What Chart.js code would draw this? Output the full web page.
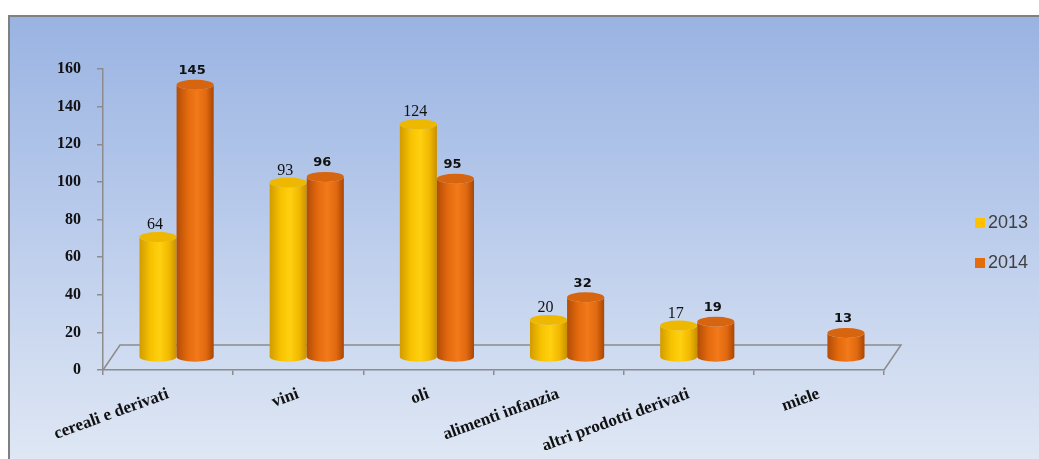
<!DOCTYPE html>
<html>
<head>
<meta charset="utf-8">
<script src="https://cdn.jsdelivr.net/npm/chart.js@4/dist/chart.umd.min.js"></script>
<style>
  html, body { margin: 0; padding: 0; background: #fff; }
  canvas { display: block; }
</style>
</head>
<body>
<canvas id="chart" width="1039" height="459"></canvas>
<script>
// Product categories and counts per year
const categories = [
  "cereali e derivati",
  "vini",
  "oli",
  "alimenti infanzia",
  "altri prodotti derivati",
  "miele",
];
const seriesLabels = ["2013", "2014"];
const values2013 = [64, 93, 124, 20, 17, null];
const values2014 = [145, 96, 95, 32, 19, 13];
const yMin = 0;
const yMax = 160;
const yStep = 20;

// Legend swatch colours
const seriesColors = ["#ffc000", "#e46c0a"];

// Shading for the cylinders (left -> right across the body, plus the cap)
const cylinderShades = [
  {
    body: [
      [0, "#d29b00"],
      [0.3, "#f7c300"],
      [0.55, "#ffd010"],
      [0.8, "#f0b800"],
      [1, "#c89000"],
    ],
    top: "#eeb800",
  },
  {
    body: [
      [0, "#b24c06"],
      [0.3, "#e46a0e"],
      [0.55, "#f27a1a"],
      [0.8, "#e06810"],
      [1, "#a84604"],
    ],
    top: "#d7650f",
  },
];

// 3D floor depth
const DEPTH_X = 17;
const DEPTH_Y = 25;
const CAP_RY = 5;

const frameBackground = {
  id: "frameBackground",
  beforeDraw(chart) {
    const ctx = chart.ctx;
    const w = chart.width;
    const h = chart.height;
    ctx.save();
    ctx.fillStyle = "#ffffff";
    ctx.fillRect(0, 0, w, h);
    const g = ctx.createLinearGradient(0, 16, 0, h);
    g.addColorStop(0, "#99b3e2");
    g.addColorStop(0.5, "#bccdec");
    g.addColorStop(1, "#dfe7f4");
    ctx.fillStyle = g;
    ctx.fillRect(9, 16, w - 9, h - 16);
    ctx.strokeStyle = "#808080";
    ctx.lineWidth = 2;
    ctx.beginPath();
    ctx.moveTo(9, h);
    ctx.lineTo(9, 16);
    ctx.lineTo(w, 16);
    ctx.stroke();
    ctx.restore();
  },
};

function drawCylinder(ctx, cx, top, base, w, shade) {
  const rx = w / 2;
  const g = ctx.createLinearGradient(cx - rx, 0, cx + rx, 0);
  shade.body.forEach(([o, c]) => g.addColorStop(o, c));
  ctx.beginPath();
  ctx.moveTo(cx - rx, top);
  ctx.lineTo(cx - rx, base);
  ctx.ellipse(cx, base, rx, CAP_RY, 0, Math.PI, 0, true);
  ctx.lineTo(cx + rx, top);
  ctx.ellipse(cx, top, rx, CAP_RY, 0, 0, Math.PI, false);
  ctx.closePath();
  ctx.fillStyle = g;
  ctx.fill();

  ctx.beginPath();
  ctx.ellipse(cx, top, rx, CAP_RY, 0, 0, Math.PI * 2);
  ctx.fillStyle = shade.top;
  ctx.fill();
}

const cylinders = {
  id: "cylinders",
  beforeDatasetsDraw(chart) {
    // floor of the 3D plot
    const { ctx, chartArea } = chart;
    const { left, right, bottom } = chartArea;
    ctx.save();
    ctx.strokeStyle = "#8c8c8c";
    ctx.lineWidth = 1.5;
    ctx.beginPath();
    ctx.moveTo(left, bottom);
    ctx.lineTo(left + DEPTH_X, bottom - DEPTH_Y);
    ctx.lineTo(right + DEPTH_X, bottom - DEPTH_Y);
    ctx.lineTo(right, bottom);
    ctx.stroke();
    ctx.restore();
  },
  afterDatasetsDraw(chart) {
    const ctx = chart.ctx;
    const dx = DEPTH_X / 2;
    const dy = -DEPTH_Y / 2;
    ctx.save();
    chart.data.datasets.forEach((ds, di) => {
      const meta = chart.getDatasetMeta(di);
      meta.data.forEach((bar, i) => {
        const v = ds.data[i];
        if (v === null || v === undefined) return;
        const cx = bar.x + dx;
        const top = bar.y + dy;
        const base = bar.base + dy;
        drawCylinder(ctx, cx, top, base, bar.width, cylinderShades[di]);

        // value label above the cap
        ctx.textAlign = "center";
        ctx.textBaseline = "middle";
        ctx.fillStyle = "#111";
        if (di === 0) {
          ctx.font = "16px 'Liberation Serif'";
          ctx.fillText(String(v), cx - 3, top - CAP_RY - 7);
        } else {
          ctx.font = "bold 13px 'DejaVu Sans'";
          ctx.fillText(String(v), cx - 3, top - CAP_RY - 9);
        }
      });
    });
    ctx.restore();
  },
  afterDraw(chart) {
    // legend on the right
    const ctx = chart.ctx;
    ctx.save();
    ctx.font = "18px 'Liberation Sans'";
    ctx.textBaseline = "middle";
    ctx.textAlign = "left";
    seriesLabels.forEach((label, i) => {
      const y = 223 + i * 40;
      ctx.fillStyle = seriesColors[i];
      ctx.fillRect(975, y - 5, 10, 10);
      ctx.fillStyle = "#404040";
      ctx.fillText(label, 988, y);
    });
    ctx.restore();
  },
};

new Chart(document.getElementById("chart"), {
  type: "bar",
  data: {
    labels: categories,
    datasets: [
      {
        label: seriesLabels[0],
        data: values2013,
        backgroundColor: "rgba(0,0,0,0)",
        borderWidth: 0,
      },
      {
        label: seriesLabels[1],
        data: values2014,
        backgroundColor: "rgba(0,0,0,0)",
        borderWidth: 0,
      },
    ],
  },
  options: {
    responsive: false,
    devicePixelRatio: 1,
    animation: false,
    categoryPercentage: 0.57,
    barPercentage: 1,
    layout: {
      padding: { left: 8, top: 69, right: 155, bottom: 9 },
    },
    plugins: {
      legend: { display: false },
      tooltip: { enabled: false },
    },
    scales: {
      x: {
        grid: {
          offset: true,
          drawOnChartArea: false,
          drawTicks: true,
          tickLength: 5,
          color: "#8c8c8c",
          lineWidth: 1.5,
        },
        border: { display: true, color: "#8c8c8c", width: 1.5 },
        ticks: {
          minRotation: 20,
          maxRotation: 20,
          autoSkip: false,
          padding: 9,
          color: "#111",
          font: { family: "'Liberation Serif'", size: 17, weight: "bold" },
        },
        afterFit(scale) {
          scale.height = 80;
        },
      },
      y: {
        min: yMin,
        max: yMax,
        ticks: {
          stepSize: yStep,
          padding: 16,
          color: "#111",
          font: { family: "'Liberation Serif'", size: 16, weight: "bold" },
        },
        grid: {
          drawOnChartArea: false,
          drawTicks: true,
          tickLength: 6,
          color: "#8c8c8c",
          lineWidth: 1.5,
        },
        border: { display: true, color: "#8c8c8c", width: 1.5 },
        afterFit(scale) {
          scale.width = 95;
        },
      },
    },
  },
  plugins: [frameBackground, cylinders],
});
</script>
</body>
</html>
